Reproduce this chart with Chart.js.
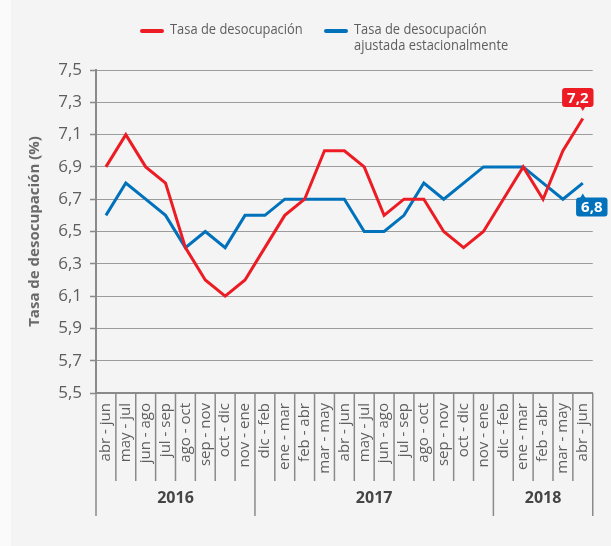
<!DOCTYPE html>
<html>
<head>
<meta charset="utf-8">
<script src="https://cdn.jsdelivr.net/npm/chart.js@4"></script>
<style>
  html, body { margin: 0; padding: 0; background: #fafafa; }
  #wrap { width: 611px; height: 546px; }
</style>
</head>
<body>
<div id="wrap"><canvas id="desocupacion" width="611" height="546"></canvas></div>
<script>
// trimestres moviles
var periodos = [
  "abr - jun", "may - jul", "jun - ago", "jul - sep", "ago - oct", "sep - nov", "oct - dic", "nov - ene",
  "dic - feb", "ene - mar", "feb - abr", "mar - may", "abr - jun", "may - jul", "jun - ago", "jul - sep",
  "ago - oct", "sep - nov", "oct - dic", "nov - ene",
  "dic - feb", "ene - mar", "feb - abr", "mar - may", "abr - jun"
];
var anios = ["2016", "2017", "2018"];
var periodosPorAnio = [8, 12, 5];

var tasa = [6.9, 7.1, 6.9, 6.8, 6.4, 6.2, 6.1, 6.2, 6.4, 6.6, 6.7, 7.0, 7.0,
            6.9, 6.6, 6.7, 6.7, 6.5, 6.4, 6.5, 6.7, 6.9, 6.7, 7.0, 7.2];
var tasaAjustada = [6.6, 6.8, 6.7, 6.6, 6.4, 6.5, 6.4, 6.6, 6.6, 6.7, 6.7, 6.7, 6.7,
                    6.5, 6.5, 6.6, 6.8, 6.7, 6.8, 6.9, 6.9, 6.9, 6.8, 6.7, 6.8];

var ROJO = "#ed1c24";
var AZUL = "#0072bc";
var GRIS = "#8a8a8a";
var TEXTO = "#5e5e5e";
var FUENTE = "'Open Sans', sans-serif";

function coma(v) {
  return v.toFixed(1).replace(".", ",");
}

// fondo gris del recuadro
var fondo = {
  id: "fondo",
  beforeDraw: function (chart) {
    var ctx = chart.ctx;
    ctx.save();
    ctx.fillStyle = "#fafafa";
    ctx.fillRect(0, 0, chart.width, chart.height);
    ctx.fillStyle = "#f4f4f4";
    ctx.fillRect(11, 0, chart.width - 11, chart.height);
    ctx.restore();
  }
};

// separadores de periodos y fila de años bajo el eje x
var ejeAnios = {
  id: "ejeAnios",
  afterDraw: function (chart) {
    var ctx = chart.ctx;
    var xs = chart.scales.x;
    var paso = xs.getPixelForValue(1) - xs.getPixelForValue(0);
    var y0 = xs.top;
    ctx.save();
    ctx.strokeStyle = GRIS;
    ctx.lineWidth = 1.5;
    var limites = [0];
    var acum = 0;
    periodosPorAnio.forEach(function (n) { acum += n; limites.push(acum); });
    for (var i = 0; i <= periodos.length; i++) {
      var x = xs.getPixelForValue(i) - paso / 2;
      var largo = limites.indexOf(i) >= 0 ? 123 : 88;
      ctx.beginPath();
      ctx.moveTo(x, y0);
      ctx.lineTo(x, y0 + largo);
      ctx.stroke();
    }
    ctx.fillStyle = "#454545";
    ctx.font = "bold 16px " + FUENTE;
    ctx.textAlign = "center";
    ctx.textBaseline = "middle";
    anios.forEach(function (a, k) {
      var x1 = xs.getPixelForValue(limites[k]) - paso / 2;
      var x2 = xs.getPixelForValue(limites[k + 1]) - paso / 2;
      ctx.fillText(a, (x1 + x2) / 2, y0 + 105);
    });
    ctx.restore();
  }
};

// leyenda arriba (texto algo angosto)
var leyenda = {
  id: "leyenda",
  afterDraw: function (chart) {
    var ctx = chart.ctx;
    var items = [
      { color: ROJO, x: 140, lineas: [chart.data.datasets[0].label] },
      { color: AZUL, x: 324, lineas: chart.data.datasets[1].label.split("\n") }
    ];
    ctx.save();
    items.forEach(function (it) {
      ctx.strokeStyle = it.color;
      ctx.lineWidth = 4;
      ctx.lineCap = "round";
      ctx.beginPath();
      ctx.moveTo(it.x + 2, 31);
      ctx.lineTo(it.x + 22, 31);
      ctx.stroke();
      ctx.fillStyle = TEXTO;
      ctx.font = "15px " + FUENTE;
      ctx.textBaseline = "middle";
      ctx.textAlign = "left";
      it.lineas.forEach(function (t, j) {
        ctx.save();
        ctx.translate(it.x + 30, 30 + j * 16);
        ctx.scale(0.86, 1);
        ctx.fillText(t, 0, 0);
        ctx.restore();
      });
    });
    ctx.restore();
  }
};

// etiquetas del ultimo valor
function globo(ctx, texto, cx, cy, color, px, py) {
  ctx.font = "bold 15px " + FUENTE;
  var w = ctx.measureText(texto).width + 10;
  var h = 19;
  var x = cx - w / 2, y = cy - h / 2;
  ctx.fillStyle = color;
  ctx.beginPath();
  ctx.roundRect(x, y, w, h, 3);
  ctx.fill();
  ctx.beginPath();
  if (py < y) {
    ctx.moveTo(px - 3, y + 1);
    ctx.lineTo(px, y - 4);
    ctx.lineTo(px + 3, y + 1);
  } else {
    ctx.moveTo(px - 3, y + h - 1);
    ctx.lineTo(px, y + h + 4);
    ctx.lineTo(px + 3, y + h - 1);
  }
  ctx.fill();
  ctx.fillStyle = "#ffffff";
  ctx.textAlign = "center";
  ctx.textBaseline = "middle";
  ctx.fillText(texto, cx, cy + 1);
}

var ultimoValor = {
  id: "ultimoValor",
  afterDatasetsDraw: function (chart) {
    var ctx = chart.ctx;
    ctx.save();
    var n = tasa.length - 1;
    var p0 = chart.getDatasetMeta(0).data[n];
    var p1 = chart.getDatasetMeta(1).data[n];
    globo(ctx, coma(tasa[n]), p0.x - 5, p0.y - 21, ROJO, p0.x, p0.y);
    globo(ctx, coma(tasaAjustada[n]), p1.x + 9, p1.y + 24, AZUL, p1.x, p1.y);
    ctx.restore();
  }
};

new Chart(document.getElementById("desocupacion"), {
  type: "line",
  data: {
    labels: periodos,
    datasets: [
      {
        label: "Tasa de desocupación",
        data: tasa,
        borderColor: ROJO,
        backgroundColor: ROJO,
        borderWidth: 3,
        pointRadius: 0,
        tension: 0
      },
      {
        label: "Tasa de desocupación\najustada estacionalmente",
        data: tasaAjustada,
        borderColor: AZUL,
        backgroundColor: AZUL,
        borderWidth: 3,
        pointRadius: 0,
        tension: 0
      }
    ]
  },
  options: {
    responsive: false,
    animation: false,
    layout: { padding: { top: 70, right: 10, left: 0, bottom: 0 } },
    plugins: {
      legend: { display: false },
      tooltip: { enabled: false }
    },
    scales: {
      x: {
        offset: true,
        grid: { display: false, drawTicks: false },
        border: { display: true, color: GRIS, width: 2 },
        ticks: {
          autoSkip: false,
          maxRotation: 90,
          minRotation: 90,
          padding: 10,
          color: TEXTO,
          font: { family: FUENTE, size: 15 }
        },
        afterFit: function (scale) { scale.height = 153; }
      },
      y: {
        min: 5.5,
        max: 7.5,
        ticks: {
          stepSize: 0.2,
          padding: 8,
          color: TEXTO,
          font: { family: FUENTE, size: 17 },
          callback: function (v) { return coma(v); }
        },
        grid: {
          color: "#9c9c9c",
          lineWidth: 1,
          borderDash: [5, 4],
          tickLength: 6,
          tickColor: GRIS,
          tickWidth: 1.5,
          tickBorderDash: []
        },
        border: { display: true, color: GRIS, width: 2 },
        title: {
          display: true,
          text: "Tasa de desocupación (%)",
          color: "#6a6a6a",
          font: { family: FUENTE, size: 15, weight: "bold" },
          padding: { top: 26, bottom: 0 }
        },
        afterFit: function (scale) { scale.width = 96; }
      }
    }
  },
  plugins: [fondo, ejeAnios, leyenda, ultimoValor]
});
</script>
</body>
</html>
